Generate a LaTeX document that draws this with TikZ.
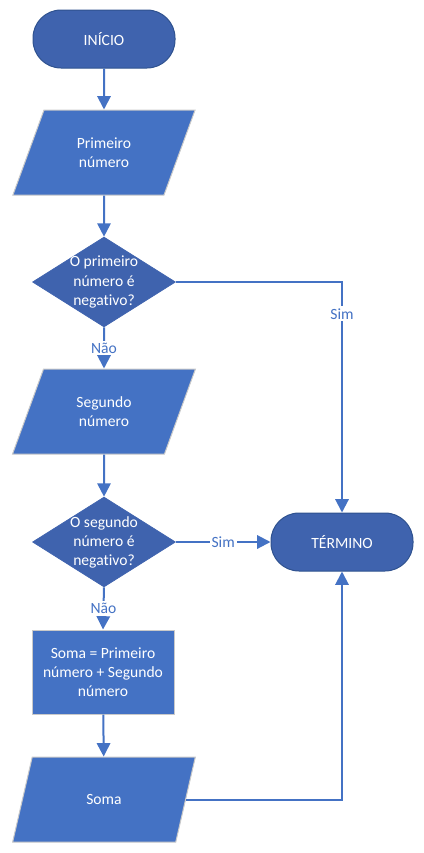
\documentclass[tikz,border=0pt]{standalone}
\usepackage{fontspec}
\setmainfont{Carlito}[Ligatures=NoCommon]
\usetikzlibrary{shapes.geometric,arrows.meta}
\definecolor{lineblue}{HTML}{4472C4}
\definecolor{lightfill}{HTML}{4472C4}
\definecolor{darkfill}{HTML}{3F63AE}
\definecolor{darkborder}{HTML}{2F528F}
\definecolor{paleborder}{HTML}{C9C9C9}
\begin{document}
\begin{tikzpicture}[x=0.75pt,y=-0.75pt,
  every node/.style={font=\fontsize{11.7}{14.3}\selectfont, text=white, align=center, inner sep=0pt},
  terminal/.style={rectangle, rounded corners=21pt, fill=darkfill, draw=darkborder, line width=0.75pt, minimum width=106.5pt, minimum height=43.5pt},
  iobox/.style={trapezium, trapezium left angle=64.8, trapezium right angle=115.2, trapezium stretches=true, fill=lightfill, draw=paleborder, line width=0.75pt, minimum width=137.25pt, minimum height=63.75pt},
  decision/.style={diamond, fill=darkfill, draw=darkfill, line width=0.5pt, minimum width=107.25pt, minimum height=67.5pt, shape aspect=1.6},
  process/.style={rectangle, fill=lightfill, draw=paleborder, line width=0.75pt, minimum width=106.5pt, minimum height=63pt},
  flow/.style={draw=lineblue, line width=1.5pt, -{Triangle[width=10pt,length=10pt]}},
  lbl/.style={fill=white, text=lineblue, inner sep=1.5pt, font=\fontsize{11.7}{13}\selectfont}
]
\useasboundingbox (0,0) rectangle (424,853);
\node[terminal] (ini) at (104,39) {INÍCIO};
\node[iobox] (p1) at (104,152.5) {Primeiro\\número};
\node[decision, label={center:{O primeiro\\número é\\negativo?}}] (d1) at (104,282) {};
\node[iobox] (p2) at (104,411.5) {Segundo\\número};
\node[decision, label={center:{O segundo\\número é\\negativo?}}] (d2) at (104,542) {};
\node[terminal] (fim) at (342,542) {TÉRMINO};
\node[process] (soma) at (103,672) {Soma = Primeiro\\número + Segundo\\número};
\node[iobox] (p3) at (104,799.5) {Soma};

\draw[flow] (ini) -- (p1);
\draw[flow] (p1) -- (d1);
\draw[flow] (d1.south) -- node[lbl] {Não} (p2.north);
\draw[flow] (d1.east) -| node[lbl, pos=0.569] {Sim} (fim.north);
\draw[flow] (p2) -- (d2);
\draw[flow] (d2.east) -- node[lbl] {Sim} (fim.west);
\draw[flow] (d2.south) -- node[lbl] {Não} (soma.north);
\draw[flow] (soma) -- (p3);
\draw[flow] (p3.east) -| (fim.south);
\end{tikzpicture}
\end{document}
